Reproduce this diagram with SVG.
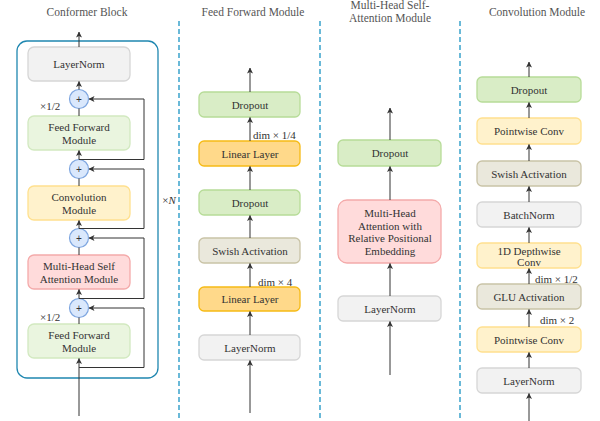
<svg xmlns="http://www.w3.org/2000/svg" width="600" height="421" viewBox="0 0 600 421">
<defs>
<marker id="ah" markerWidth="6" markerHeight="6" refX="5.5" refY="3" orient="auto" markerUnits="userSpaceOnUse">
<path d="M0,0 L6,3 L0,6 L1.5,3 Z" fill="#333"/>
</marker>
<style>
text{font-family:"Liberation Serif","Times New Roman",serif;font-size:11px;fill:#333;text-anchor:middle}
.title{fill:#555;font-size:11.5px}
.lbl{text-anchor:start}
.grey{fill:#f2f2f2;stroke:#d6d6d6}
.lgreen{fill:#eaf5df;stroke:#d2e9c0}
.green{fill:#d9edc6;stroke:#b7dc98}
.yellow{fill:#fff2cc;stroke:#ffe08e}
.orange{fill:#ffd98a;stroke:#f6bb16}
.beige{fill:#eae8dc;stroke:#c9c3a6}
.pink{fill:#ffdbdb;stroke:#f4aaaa}
rect{stroke-width:1.3}
.plus{fill:#dae8fc;stroke:#7ea6e0;stroke-width:1.2}
.ln{stroke:#333;stroke-width:1;fill:none}
.arr{stroke:#333;stroke-width:1;fill:none;marker-end:url(#ah)}
.dash{stroke:#3aa3cc;stroke-width:1.5;stroke-dasharray:5 3}
</style>
</defs>

<!-- titles -->
<text class="title" x="87" y="16">Conformer Block</text>
<text class="title" x="253" y="16">Feed Forward Module</text>
<text class="title" x="390" y="9">Multi-Head Self-</text>
<text class="title" x="390" y="22">Attention Module</text>
<text class="title" x="537" y="16">Convolution Module</text>

<!-- separators -->
<g id="separators">
<line class="dash" x1="179" y1="21" x2="179" y2="421"/>
<line class="dash" x1="320" y1="21" x2="320" y2="421"/>
<line class="dash" x1="460" y1="21" x2="460" y2="421"/>
</g>

<!-- Conformer block -->
<g id="conformer-frame">
<rect x="17" y="41" width="141" height="337" rx="10" fill="none" stroke="#1f87b0" stroke-width="1.5"/>
<text x="169" y="204">×<tspan font-style="italic">N</tspan></text>
</g>
<g id="cb-layernorm"><rect class="grey" x="28" y="47" width="102" height="34" rx="6"/><text x="79" y="68">LayerNorm</text></g>
<g id="cb-plus1"><circle class="plus" cx="79" cy="99" r="9.5"/><text x="79" y="102.5" style="font-size:10px;font-family:'Liberation Sans',sans-serif">+</text></g>
<g id="cb-ffn1"><rect class="lgreen" x="28" y="116" width="102" height="34" rx="6"/><text x="79" y="131">Feed Forward</text><text x="79" y="144">Module</text></g>
<g id="cb-plus2"><circle class="plus" cx="79" cy="169" r="9.5"/><text x="79" y="172.5" style="font-size:10px;font-family:'Liberation Sans',sans-serif">+</text></g>
<g id="cb-conv"><rect class="yellow" x="28" y="186" width="102" height="34" rx="6"/><text x="79" y="201">Convolution</text><text x="79" y="214">Module</text></g>
<g id="cb-plus3"><circle class="plus" cx="79" cy="238" r="9.5"/><text x="79" y="241.5" style="font-size:10px;font-family:'Liberation Sans',sans-serif">+</text></g>
<g id="cb-mhsa"><rect class="pink" x="28" y="255" width="102" height="34" rx="6"/><text x="79" y="270">Multi-Head Self</text><text x="79" y="283">Attention Module</text></g>
<g id="cb-plus4"><circle class="plus" cx="79" cy="308" r="9.5"/><text x="79" y="311.5" style="font-size:10px;font-family:'Liberation Sans',sans-serif">+</text></g>
<g id="cb-ffn2"><rect class="lgreen" x="28" y="324" width="102" height="34" rx="6"/><text x="79" y="339">Feed Forward</text><text x="79" y="352">Module</text></g>
<text class="lbl" x="40" y="110">×1/2</text>
<text class="lbl" x="40" y="321">×1/2</text>

<!-- Feed Forward Module -->
<g id="ff-dropout1"><rect class="green" x="199" y="92" width="101" height="25" rx="5"/><text x="250" y="108.5">Dropout</text></g>
<g id="ff-linear1"><rect class="orange" x="199" y="141" width="101" height="25" rx="5"/><text x="250" y="157.5">Linear Layer</text></g>
<g id="ff-dropout2"><rect class="green" x="199" y="190" width="101" height="25" rx="5"/><text x="250" y="206.5">Dropout</text></g>
<g id="ff-swish"><rect class="beige" x="199" y="238" width="101" height="25" rx="5"/><text x="250" y="254.5">Swish Activation</text></g>
<g id="ff-linear2"><rect class="orange" x="199" y="287" width="101" height="24" rx="5"/><text x="250" y="303">Linear Layer</text></g>
<g id="ff-layernorm"><rect class="grey" x="199" y="335" width="101" height="25" rx="5"/><text x="250" y="351.5">LayerNorm</text></g>
<text class="lbl" x="253" y="139">dim × 1/4</text>
<text class="lbl" x="258" y="286">dim × 4</text>

<!-- MHSA Module -->
<g id="mh-dropout"><rect class="green" x="338" y="140" width="103" height="26" rx="5"/><text x="390" y="157">Dropout</text></g>
<g id="mh-attn"><rect class="pink" x="338" y="200" width="103" height="63" rx="9"/><text x="390" y="217">Multi-Head</text><text x="390" y="229.5">Attention with</text><text x="390" y="242">Relative Positional</text><text x="390" y="254.5">Embedding</text></g>
<g id="mh-layernorm"><rect class="grey" x="338" y="296" width="103" height="25" rx="5"/><text x="390" y="312.5">LayerNorm</text></g>

<!-- Convolution Module -->
<g id="cv-dropout"><rect class="green" x="477" y="77" width="104" height="25" rx="5"/><text x="529" y="93.5">Dropout</text></g>
<g id="cv-pw1"><rect class="yellow" x="477" y="118" width="104" height="26" rx="5"/><text x="529" y="135">Pointwise Conv</text></g>
<g id="cv-swish"><rect class="beige" x="477" y="161" width="104" height="25" rx="5"/><text x="529" y="177.5">Swish Activation</text></g>
<g id="cv-bn"><rect class="grey" x="477" y="202" width="104" height="25" rx="5"/><text x="529" y="218.5">BatchNorm</text></g>
<g id="cv-dw"><rect class="yellow" x="477" y="243" width="104" height="25" rx="5"/><text x="529" y="254.5">1D Depthwise</text><text x="529" y="266">Conv</text></g>
<g id="cv-glu"><rect class="beige" x="477" y="284" width="104" height="25" rx="5"/><text x="529" y="300.5">GLU Activation</text></g>
<g id="cv-pw2"><rect class="yellow" x="477" y="327" width="104" height="25" rx="5"/><text x="529" y="343.5">Pointwise Conv</text></g>
<g id="cv-layernorm"><rect class="grey" x="477" y="368" width="104" height="25" rx="5"/><text x="529" y="384.5">LayerNorm</text></g>
<text class="lbl" x="535" y="283">dim × 1/2</text>
<text class="lbl" x="540" y="324">dim × 2</text>

<!-- connectors -->
<g id="connectors">
<!-- conformer block -->
<line class="arr" x1="79" y1="47" x2="79" y2="32"/>
<line class="arr" x1="79" y1="89.5" x2="79" y2="81.5"/>
<line class="ln" x1="79" y1="116" x2="79" y2="108.5"/>
<line class="arr" x1="79" y1="159.5" x2="79" y2="150.5"/>
<line class="ln" x1="79" y1="186" x2="79" y2="178.5"/>
<line class="arr" x1="79" y1="228.5" x2="79" y2="220.5"/>
<line class="ln" x1="79" y1="255" x2="79" y2="247.5"/>
<line class="arr" x1="79" y1="298.5" x2="79" y2="289.5"/>
<line class="ln" x1="79" y1="324" x2="79" y2="317.5"/>
<line class="arr" x1="79" y1="416" x2="79" y2="358.5"/>
<path class="arr" d="M79,159.5 H144 V99 H89"/>
<path class="arr" d="M79,228.5 H144 V169 H89"/>
<path class="arr" d="M79,298.5 H144 V238 H89"/>
<path class="arr" d="M79,367.5 H144 V308 H89"/>
<!-- feed forward -->
<line class="arr" x1="250" y1="92" x2="250" y2="68"/>
<line class="arr" x1="250" y1="141" x2="250" y2="117.5"/>
<line class="arr" x1="250" y1="190" x2="250" y2="166.5"/>
<line class="arr" x1="250" y1="238" x2="250" y2="215.5"/>
<line class="arr" x1="250" y1="287" x2="250" y2="263.5"/>
<line class="arr" x1="250" y1="335" x2="250" y2="311.5"/>
<line class="arr" x1="250" y1="413" x2="250" y2="360.5"/>
<!-- mhsa -->
<line class="arr" x1="390" y1="140" x2="390" y2="108"/>
<line class="arr" x1="390" y1="200" x2="390" y2="166.5"/>
<line class="arr" x1="390" y1="296" x2="390" y2="263.5"/>
<line class="arr" x1="390" y1="375" x2="390" y2="321.5"/>
<!-- convolution -->
<line class="arr" x1="529" y1="77" x2="529" y2="62"/>
<line class="arr" x1="529" y1="118" x2="529" y2="102.5"/>
<line class="arr" x1="529" y1="161" x2="529" y2="144.5"/>
<line class="arr" x1="529" y1="202" x2="529" y2="186.5"/>
<line class="arr" x1="529" y1="243" x2="529" y2="227.5"/>
<line class="arr" x1="529" y1="284" x2="529" y2="268.5"/>
<line class="arr" x1="529" y1="327" x2="529" y2="309.5"/>
<line class="arr" x1="529" y1="368" x2="529" y2="352.5"/>
<line class="arr" x1="529" y1="421" x2="529" y2="393.5"/>
</g>
</svg>
